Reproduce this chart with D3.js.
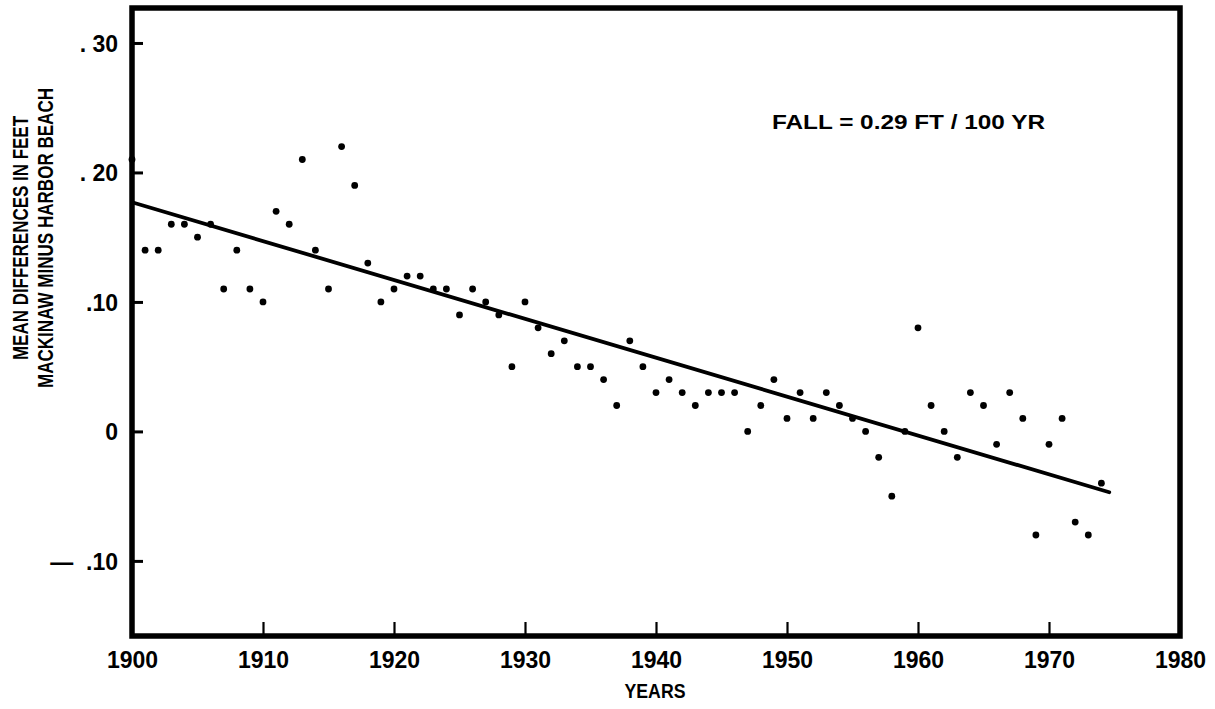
<!DOCTYPE html>
<html>
<head>
<meta charset="utf-8">
<script src="https://cdn.jsdelivr.net/npm/d3@7/dist/d3.min.js"></script>
<style>
  html, body { margin: 0; padding: 0; background: #fff; }
  svg { display: block; }
  text { font-family: "Liberation Sans", Arial, Helvetica, sans-serif; font-weight: bold; fill: #000; }
</style>
</head>
<body>
<svg id="chart" width="1215" height="709"></svg>
<script>
// ---- Data ----
const years = d3.range(1900, 1975);
const values = [
  0.21, 0.14, 0.14, 0.16, 0.16, 0.15, 0.16, 0.11, 0.14, 0.11,
  0.10, 0.17, 0.16, 0.21, 0.14, 0.11, 0.22, 0.19, 0.13, 0.10,
  0.11, 0.12, 0.12, 0.11, 0.11, 0.09, 0.11, 0.10, 0.09, 0.05,
  0.10, 0.08, 0.06, 0.07, 0.05, 0.05, 0.04, 0.02, 0.07, 0.05,
  0.03, 0.04, 0.03, 0.02, 0.03, 0.03, 0.03, 0.00, 0.02, 0.04,
  0.01, 0.03, 0.01, 0.03, 0.02, 0.01, 0.00, -0.02, -0.05, 0.00,
  0.08, 0.02, 0.00, -0.02, 0.03, 0.02, -0.01, 0.03, 0.01, -0.08,
  -0.01, 0.01, -0.07, -0.08, -0.04
];
const fitYears = [1900, 1974.6];
const fitValues = [0.177, -0.047];
const xTicks = [1900, 1910, 1920, 1930, 1940, 1950, 1960, 1970, 1980];
const yTicks = [-0.10, 0, 0.10, 0.20, 0.30];
const yTickLabels = ["\u2014  .10", "0", ".10", ". 20", ". 30"];
const annotation = "FALL = 0.29 FT / 100 YR";
const xTitle = "YEARS";
const yTitleLines = ["MEAN DIFFERENCES IN FEET", "MACKINAW MINUS HARBOR BEACH"];

// ---- Layout ----
const pLeft = 132, pRight = 1180, pTop = 8, pBottom = 636;
const svg = d3.select("#chart");
svg.append("rect").attr("width", 1215).attr("height", 709).attr("fill", "#fff");

const x = d3.scaleLinear().domain([1900, 1980]).range([pLeft, pRight]);
const y = d3.scaleLinear().domain([-0.158, 0.327]).range([pBottom, pTop]);

// Ticks (inward)
const xAxis = d3.axisBottom(x).tickValues(xTicks).tickSize(-14).tickFormat(d3.format("d")).tickPadding(0);
const gx = svg.append("g").attr("transform", `translate(0,${pBottom})`).call(xAxis);
gx.select(".domain").remove();
gx.selectAll(".tick line").attr("stroke", "#000").attr("stroke-width", 2.2);
gx.selectAll(".tick text").attr("y", 32).attr("dy", 0)
  .style("font-size", "23px").style("font-family", "'Liberation Sans', Arial, sans-serif").style("font-weight", "bold");

const yAxis = d3.axisLeft(y).tickValues(yTicks).tickSize(-11)
  .tickFormat((d, i) => yTickLabels[i]).tickPadding(0);
const gy = svg.append("g").attr("transform", `translate(${pLeft},0)`).call(yAxis);
gy.select(".domain").remove();
gy.selectAll(".tick line").attr("stroke", "#000").attr("stroke-width", 3);
gy.selectAll(".tick text").attr("x", -14).attr("dy", "0.36em")
  .style("white-space", "pre")
  .style("font-size", "23px").style("font-family", "'Liberation Sans', Arial, sans-serif").style("font-weight", "bold");

// Frame
svg.append("rect")
  .attr("x", x(1900)).attr("y", pTop)
  .attr("width", x(1980) - x(1900)).attr("height", pBottom - pTop)
  .attr("fill", "none").attr("stroke", "#000").attr("stroke-width", 5.5);

// Regression line
const line = d3.line().x(d => x(d[0])).y(d => y(d[1]));
svg.append("path")
  .datum(fitYears.map((yr, i) => [yr, fitValues[i]]))
  .attr("d", line).attr("stroke", "#000").attr("stroke-width", 3.8)
  .attr("fill", "none").attr("stroke-linecap", "round");

// Points
svg.append("g").selectAll("circle")
  .data(years.map((yr, i) => [yr, values[i]]))
  .join("circle")
  .attr("cx", d => x(d[0])).attr("cy", d => y(d[1]))
  .attr("r", 3.4).attr("fill", "#000");

// Annotation
svg.append("text").attr("x", 772).attr("y", 129)
  .attr("textLength", 273).attr("lengthAdjust", "spacingAndGlyphs")
  .style("font-size", "21px").text(annotation);

// Axis titles
svg.append("text").attr("x", 655).attr("y", 698).attr("text-anchor", "middle")
  .attr("textLength", 61).attr("lengthAdjust", "spacingAndGlyphs")
  .style("font-size", "21px").text(xTitle);

const yTitleX = [28, 53];
const yTitleLen = [244, 300];
yTitleLines.forEach((t, i) => {
  svg.append("text")
    .attr("transform", `translate(${yTitleX[i]},238) rotate(-90)`)
    .attr("text-anchor", "middle")
    .attr("textLength", yTitleLen[i]).attr("lengthAdjust", "spacingAndGlyphs")
    .style("font-size", "22px").text(t);
});
</script>
</body>
</html>
